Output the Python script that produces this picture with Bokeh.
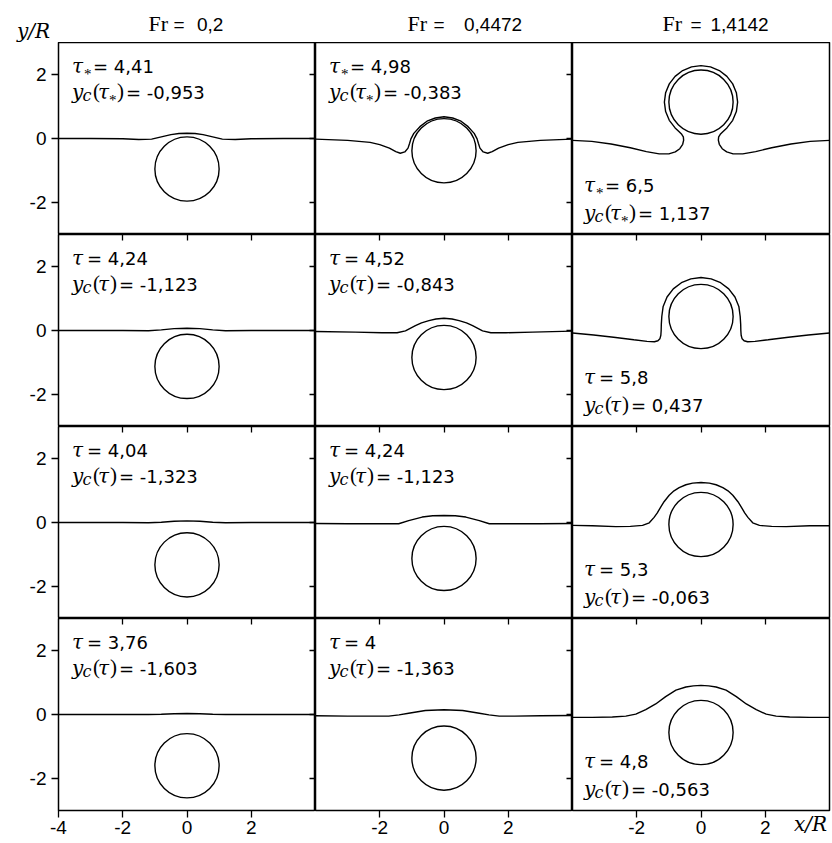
from bokeh.plotting import figure
from bokeh.layouts import gridplot
from bokeh.models import Range1d, LinearAxis, FixedTicker, Label
from bokeh.core.properties import value
from bokeh.embed import file_html
from bokeh.resources import INLINE

# ---------------- data ----------------
fr_labels = ["0,2", "0,4472", "1,4142"]
tau_labels = [["4,41", "4,98", "6,5"],
              ["4,24", "4,52", "5,8"],
              ["4,04", "4,24", "5,3"],
              ["3,76", "4", "4,8"]]
yc_values = [[-0.953, -0.383, 1.137],
             [-1.123, -0.843, 0.437],
             [-1.323, -1.123, -0.063],
             [-1.603, -1.363, -0.563]]
x_ticks_first = [-4, -2, 0, 2]
x_ticks = [-2, 0, 2]
y_ticks = [-2, 0, 2]

# free surface, Fr = 0.2
sx_11 = [-4, -3, -2, -1.5, -1.1, -0.8, -0.5, -0.25, 0, 0.25, 0.5, 0.8, 1.1, 1.5, 2, 3, 4]
sy_11 = [0, 0, -0.01, -0.03, -0.02, 0.05, 0.12, 0.155, 0.165, 0.155, 0.12, 0.05, -0.02, -0.03, -0.01, 0, 0]
sx_21 = [-4, -2, -1.2, -0.8, -0.4, 0, 0.4, 0.8, 1.2, 2, 4]
sy_21 = [0, 0, -0.01, 0.02, 0.06, 0.07, 0.06, 0.02, -0.01, 0, 0]
sx_31 = [-4, -2, -1.2, -0.8, -0.4, 0, 0.4, 0.8, 1.2, 2, 4]
sy_31 = [0, 0, -0.01, 0.01, 0.04, 0.05, 0.04, 0.01, -0.01, 0, 0]
sx_41 = [-4, -2, -1.2, -0.8, -0.4, 0, 0.4, 0.8, 1.2, 2, 4]
sy_41 = [0, 0, 0, 0.01, 0.025, 0.03, 0.025, 0.01, 0, 0, 0]

# free surface, Fr = 0.4472
sx_12 = [-4.0, -3.0, -2.3, -2.0, -1.7, -1.5, -1.36, -1.22, -1.12, -1.07, -1.03, -0.94, -0.75, -0.53, -0.27, 0.0,
         0.27, 0.53, 0.75, 0.94, 1.03, 1.07, 1.12, 1.22, 1.36, 1.5, 1.7, 2.0, 2.3, 3.0, 4.0]
sy_12 = [-0.02, -0.06, -0.12, -0.19, -0.30, -0.41, -0.46, -0.42, -0.30, -0.15, -0.01, 0.16, 0.37, 0.54, 0.64, 0.68,
         0.64, 0.54, 0.37, 0.16, -0.01, -0.15, -0.30, -0.42, -0.46, -0.41, -0.30, -0.19, -0.12, -0.06, -0.02]
sx_22 = [-4, -2.76, -1.93, -1.46, -1.2, -0.89, -0.7, -0.47, -0.25, 0, 0.25, 0.47, 0.7, 0.89, 1.2, 1.46, 1.93, 2.76, 4]
sy_22 = [-0.03, -0.05, -0.07, -0.07, -0.01, 0.15, 0.24, 0.31, 0.36, 0.385, 0.36, 0.31, 0.24, 0.15, -0.01, -0.07, -0.07, -0.05, -0.02]
sx_32 = [-4, -3, -2, -1.41, -1.1, -0.68, -0.35, 0, 0.35, 0.68, 1.1, 1.41, 2, 3, 4]
sy_32 = [-0.03, -0.04, -0.04, -0.04, 0.06, 0.17, 0.21, 0.22, 0.21, 0.17, 0.06, -0.04, -0.04, -0.04, -0.03]
sx_42 = [-4, -3, -2.2, -1.72, -1.4, -1.1, -0.58, 0, 0.58, 1.1, 1.4, 1.72, 2.2, 3, 4]
sy_42 = [-0.04, -0.05, -0.05, -0.05, -0.01, 0.04, 0.125, 0.15, 0.125, 0.04, -0.01, -0.05, -0.05, -0.04, -0.03]

# free surface, Fr = 1.4142
sx_13 = [-4.0, -3.4, -2.8, -2.2, -1.7, -1.3, -1.0, -0.8, -0.66, -0.57, -0.54, -0.55, -0.6, -0.68, -0.806, -0.987,
         -1.101, -1.14, -1.101, -0.987, -0.806, -0.57, -0.295, 0.0, 0.295, 0.57, 0.806, 0.987, 1.101, 1.14, 1.101,
         0.987, 0.806, 0.68, 0.6, 0.55, 0.54, 0.57, 0.66, 0.8, 1.0, 1.3, 1.7, 2.2, 2.8, 3.4, 4.0]
sy_13 = [-0.06, -0.09, -0.17, -0.29, -0.41, -0.48, -0.48, -0.42, -0.32, -0.18, -0.05, 0.05, 0.13, 0.21, 0.331, 0.567,
         0.842, 1.137, 1.432, 1.707, 1.943, 2.124, 2.238, 2.277, 2.238, 2.124, 1.943, 1.707, 1.432, 1.137, 0.842,
         0.567, 0.331, 0.21, 0.13, 0.05, -0.05, -0.18, -0.32, -0.42, -0.48, -0.48, -0.41, -0.29, -0.17, -0.09, -0.06]
sx_23 = [-4.0, -3.34, -2.72, -2.09, -1.68, -1.45, -1.34, -1.28, -1.25, -1.24, -1.235, -1.22, -1.178, -1.057, -0.863,
         -0.61, -0.316, 0.0, 0.316, 0.61, 0.863, 1.057, 1.178, 1.22, 1.235, 1.24, 1.25, 1.28, 1.34, 1.45, 1.68, 2.09,
         2.72, 3.34, 4.0]
sy_23 = [-0.08, -0.14, -0.21, -0.29, -0.34, -0.35, -0.32, -0.26, -0.15, 0.0, 0.2, 0.437, 0.753, 1.047, 1.300,
         1.494, 1.615, 1.657, 1.615, 1.494, 1.300, 1.047, 0.753, 0.437, 0.2, 0.0, -0.15, -0.26, -0.32, -0.35, -0.34,
         -0.29, -0.21, -0.14, -0.08]
sx_33 = [-4.0, -3.38, -2.65, -2.2, -1.82, -1.61, -1.46, -1.36, -1.25, -1.15, -0.99, -0.84, -0.68, -0.47, -0.26, 0.0,
         0.26, 0.47, 0.68, 0.84, 0.99, 1.15, 1.25, 1.36, 1.46, 1.61, 1.82, 2.2, 2.65, 3.38, 4.0]
sy_33 = [-0.09, -0.10, -0.13, -0.12, -0.09, -0.01, 0.16, 0.30, 0.49, 0.65, 0.85, 0.99, 1.09, 1.18, 1.23, 1.25,
         1.23, 1.18, 1.09, 0.99, 0.85, 0.65, 0.49, 0.30, 0.16, -0.01, -0.09, -0.12, -0.13, -0.10, -0.10]
sx_43 = [-4.0, -3.38, -2.76, -2.34, -2.03, -1.72, -1.41, -1.10, -0.78, -0.47, -0.24, 0.0, 0.24, 0.47, 0.78, 1.10,
         1.41, 1.72, 2.03, 2.34, 2.76, 3.38, 4.0]
sy_43 = [-0.09, -0.09, -0.08, -0.05, 0.01, 0.15, 0.33, 0.56, 0.76, 0.86, 0.895, 0.91, 0.895, 0.86, 0.76, 0.56,
         0.33, 0.15, 0.01, -0.05, -0.08, -0.09, -0.09]

surfaces = [[(sx_11, sy_11), (sx_12, sy_12), (sx_13, sy_13)],
            [(sx_21, sy_21), (sx_22, sy_22), (sx_23, sy_23)],
            [(sx_31, sy_31), (sx_32, sy_32), (sx_33, sy_33)],
            [(sx_41, sy_41), (sx_42, sy_42), (sx_43, sy_43)]]

# ---------------- styling / layout ----------------
SANS = "Liberation Sans"
NUMF = "DejaVu Sans"
SERIF = "Liberation Serif"
ITAL = "DejaVu Serif"
FW, FH = 257, 192
LEFT, RIGHT, TOP, BOTTOM = 58, 3, 42, 30
LW = 1.4
MID = 0.345              # text anchor is the middle of the text box: baseline sits this many em lower
# pixel offsets (from x = 0 of each column) of the pieces "Fr", "=", value of the column titles
title_off = [(-38.5, -13.5, 10), (-36.5, -10.5, 20), (-38.5, -10.5, 9.5)]


def fpx(size):
    return float(size.replace("px", ""))


def lab(p, x, y, text, font, size, dx=0, dy=0, style="normal", align="left", place="center"):
    p.add_layout(Label(x=x, y=y, x_offset=dx, y_offset=dy + MID * fpx(size), text=text, text_font=font,
                       text_font_size=size, text_font_style=style, text_align=align,
                       text_baseline="middle", text_color="black"), place)


def style_axis(ax, ticks, standoff):
    ax.ticker = FixedTicker(ticks=ticks)
    ax.major_label_overrides = {t: str(t) for t in ticks}
    ax.major_tick_in = 0
    ax.major_tick_out = 7
    ax.minor_tick_in = 0
    ax.minor_tick_out = 0
    ax.axis_line_color = None
    ax.major_tick_line_color = "black"
    ax.major_tick_line_width = 1.3
    ax.major_label_text_font = SANS
    ax.major_label_text_font_size = "19px"
    ax.major_label_text_color = "black"
    ax.major_label_standoff = standoff


def tick_axis(p, side, loc):
    ax = LinearAxis(fixed_location=loc, ticker=FixedTicker(ticks=y_ticks if side == "right" else x_ticks),
                    major_tick_in=6, major_tick_out=0, minor_tick_in=0, minor_tick_out=0,
                    axis_line_color=None, major_label_text_font_size="0px", major_label_text_alpha=0,
                    major_label_standoff=0, major_tick_line_color="black", major_tick_line_width=1.3)
    p.add_layout(ax, side)


def num(v):
    return f"{v:.3f}".replace(".", ",")


def annotate(p, x, y1, y2, tau, yc, star):
    tau_txt = "= " + tau
    yc_txt = "= " + num(yc)
    lab(p, x, y1, "τ", ITAL, "20px", 0, 0, "italic")
    lab(p, x, y2, "y", ITAL, "20px", 0, 0, "italic")
    lab(p, x, y2, "c", ITAL, "16px", 10.5, -3, "italic")
    lab(p, x, y2, "(", SERIF, "21px", 21, 0)
    lab(p, x, y2, "τ", ITAL, "20px", 26, 0, "italic")
    if star:
        lab(p, x, y1, "*", SERIF, "15px", 12, -6.5)
        lab(p, x, y1, tau_txt, NUMF, "18px", 21, 0)
        lab(p, x, y2, "*", SERIF, "15px", 37, -6.5)
        lab(p, x, y2, ")", SERIF, "21px", 45, 0)
        lab(p, x, y2, yc_txt, NUMF, "18px", 54, 0)
    else:
        lab(p, x, y1, tau_txt, NUMF, "18px", 15, 0)
        lab(p, x, y2, ")", SERIF, "21px", 38, 0)
        lab(p, x, y2, yc_txt, NUMF, "18px", 47, 0)


def strip_text(s, x, y, text, font, size, dx=0, style="normal", align="left"):
    s.text(x=[x], y=[y + MID * fpx(size)], text=[text], x_offset=dx, text_font=value(font),
           text_font_size=value(size), text_font_style=style, text_align=align,
           text_baseline="middle", text_color="black")


# ---- title strip (column titles and the y/R label); y = pixels above the panels ----
strips = []
for c in range(3):
    s = figure(frame_width=FW, frame_height=TOP, x_range=Range1d(-4, 4), y_range=Range1d(0, TOP),
               output_backend="svg", toolbar_location=None, x_axis_location=None, y_axis_location=None,
               min_border=0, min_border_left=LEFT if c == 0 else 0, min_border_right=RIGHT if c == 2 else 0,
               outline_line_color=None, title=None,
               background_fill_color="white", border_fill_color="white")
    s.xgrid.visible = False
    s.ygrid.visible = False
    fo, eo, vo = title_off[c]
    strip_text(s, 0, 11.5, "Fr", SERIF, "22px", fo)
    strip_text(s, 0, 11.5, "=", SANS, "19px", eo)
    strip_text(s, 0, 11.5, fr_labels[c], SANS, "19px", vo)
    if c == 0:
        lab(s, -4, 5, "y/R", ITAL, "20px", -8.5, 0, "italic", "right", place="left")
    strips.append(s)

rows = [strips]
for r in range(4):
    row = []
    for c in range(3):
        p = figure(frame_width=FW, frame_height=FH,
                   x_range=Range1d(-4, 4), y_range=Range1d(-3, 3),
                   output_backend="svg", toolbar_location=None, title=None,
                   x_axis_location="below" if r == 3 else None,
                   y_axis_location="left" if c == 0 else None,
                   min_border=0,
                   min_border_left=LEFT if c == 0 else 0,
                   min_border_right=RIGHT if c == 2 else 0,
                   min_border_bottom=BOTTOM if r == 3 else 0,
                   background_fill_color="white", border_fill_color="white")
        p.outline_line_color = "black"
        p.outline_line_width = 1.5
        p.xgrid.visible = False
        p.ygrid.visible = False
        if c == 0:
            style_axis(p.yaxis[0], y_ticks, 5)
        if r == 3:
            ax = p.xaxis[0]
            style_axis(ax, x_ticks_first if c == 0 else x_ticks, 3)
            if c == 2:
                ax.axis_label = "x/R" + "\u00a0" * 6
                ax.axis_label_align = "end"
                ax.axis_label_standoff = -25
                ax.axis_label_text_font = ITAL
                ax.axis_label_text_font_style = "italic"
                ax.axis_label_text_font_size = "20px"
                ax.axis_label_text_color = "black"
        if c < 2:
            tick_axis(p, "right", 4)
        if r > 0:
            tick_axis(p, "above", 3)

        sx, sy = surfaces[r][c]
        p.line(sx, sy, line_color="black", line_width=LW)
        p.circle(x=[0], y=[yc_values[r][c]], radius=1, fill_color=None,
                 line_color="black", line_width=LW)

        if c < 2:
            annotate(p, -3.58, 2.06, 1.25, tau_labels[r][c], yc_values[r][c], r == 0)
        else:
            annotate(p, -3.64, -1.66, -2.53, tau_labels[r][c], yc_values[r][c], r == 0)
        row.append(p)
    rows.append(row)

grid = gridplot(rows, toolbar_location=None)
open("out.html", "w").write(file_html(grid, INLINE))
